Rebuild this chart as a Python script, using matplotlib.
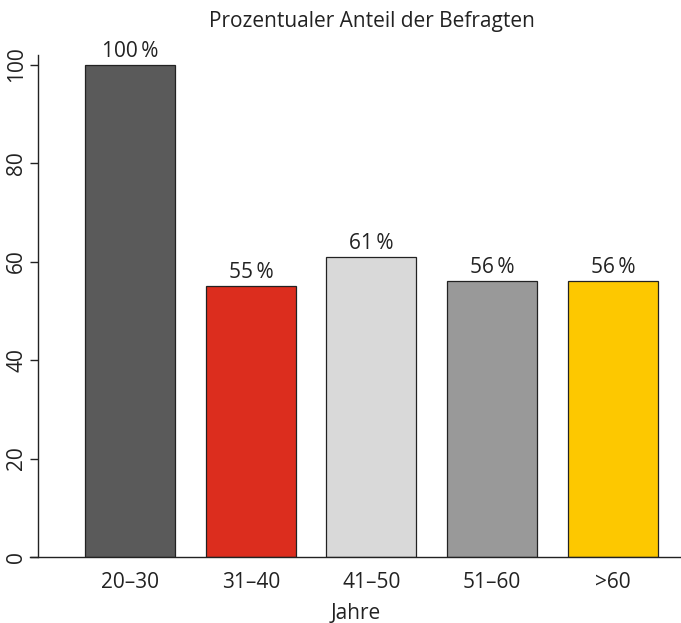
import matplotlib
matplotlib.use("Agg")
import matplotlib.pyplot as plt

categories = ["20–30", "31–40", "41–50", "51–60", ">60"]
values = [100, 55, 61, 56, 56]
labels = ["100\u2009%", "55\u2009%", "61\u2009%", "56\u2009%", "56\u2009%"]
colors = ["#5a5a5a", "#dc2d1e", "#d9d9d9", "#999999", "#fdc800"]
yticks = [0, 20, 40, 60, 80, 100]

plt.rcParams['font.family'] = ['Open Sans', 'DejaVu Sans']
FS = 15

W, H = 681, 623
fig = plt.figure(figsize=(W / 100, H / 100), dpi=100)
# axes pixel box: left 30, right 681, bottom y=557, top y=40
ax = fig.add_axes([30 / W, (H - 557) / H, (681 - 30) / W, (557 - 40) / H])

x = list(range(len(categories)))
ax.bar(x, values, width=0.746, color=colors, edgecolor="#222222", linewidth=0.9, zorder=2)

ax.set_xlim(-0.83, 4.565)
ax.set_ylim(0, 105)

for xi, v, lab in zip(x, values, labels):
    ax.annotate(lab, (xi, v), xytext=(0, 2), textcoords="offset points",
                ha="center", va="bottom", fontsize=FS, color="#222222")

ax.axhline(0, color="#222222", linewidth=1.0, zorder=3, clip_on=False)

for s in ["top", "right", "bottom"]:
    ax.spines[s].set_visible(False)
ax.spines["left"].set_position(("data", -0.762))
ax.spines["left"].set_bounds(0, 102)
ax.spines["left"].set_linewidth(1.0)
ax.spines["left"].set_color("#222222")

ax.set_yticks(yticks)
ax.set_yticklabels([str(t) for t in yticks], rotation=90, va="center", fontsize=FS, color="#222222")
ax.tick_params(axis="y", length=6, width=1.0, color="#222222", pad=2)

ax.set_xticks(x)
ax.set_xticklabels(categories, fontsize=FS, color="#222222")
ax.tick_params(axis="x", length=0, pad=11)
ax.set_xlabel("Jahre", fontsize=FS, color="#222222", labelpad=7)

fig.text((203 + 541) / 2 / W, 1 - 21 / H, "Prozentualer Anteil der Befragten",
         ha="center", va="center", fontsize=FS, color="#222222")

fig.savefig("out.png", dpi=100)
